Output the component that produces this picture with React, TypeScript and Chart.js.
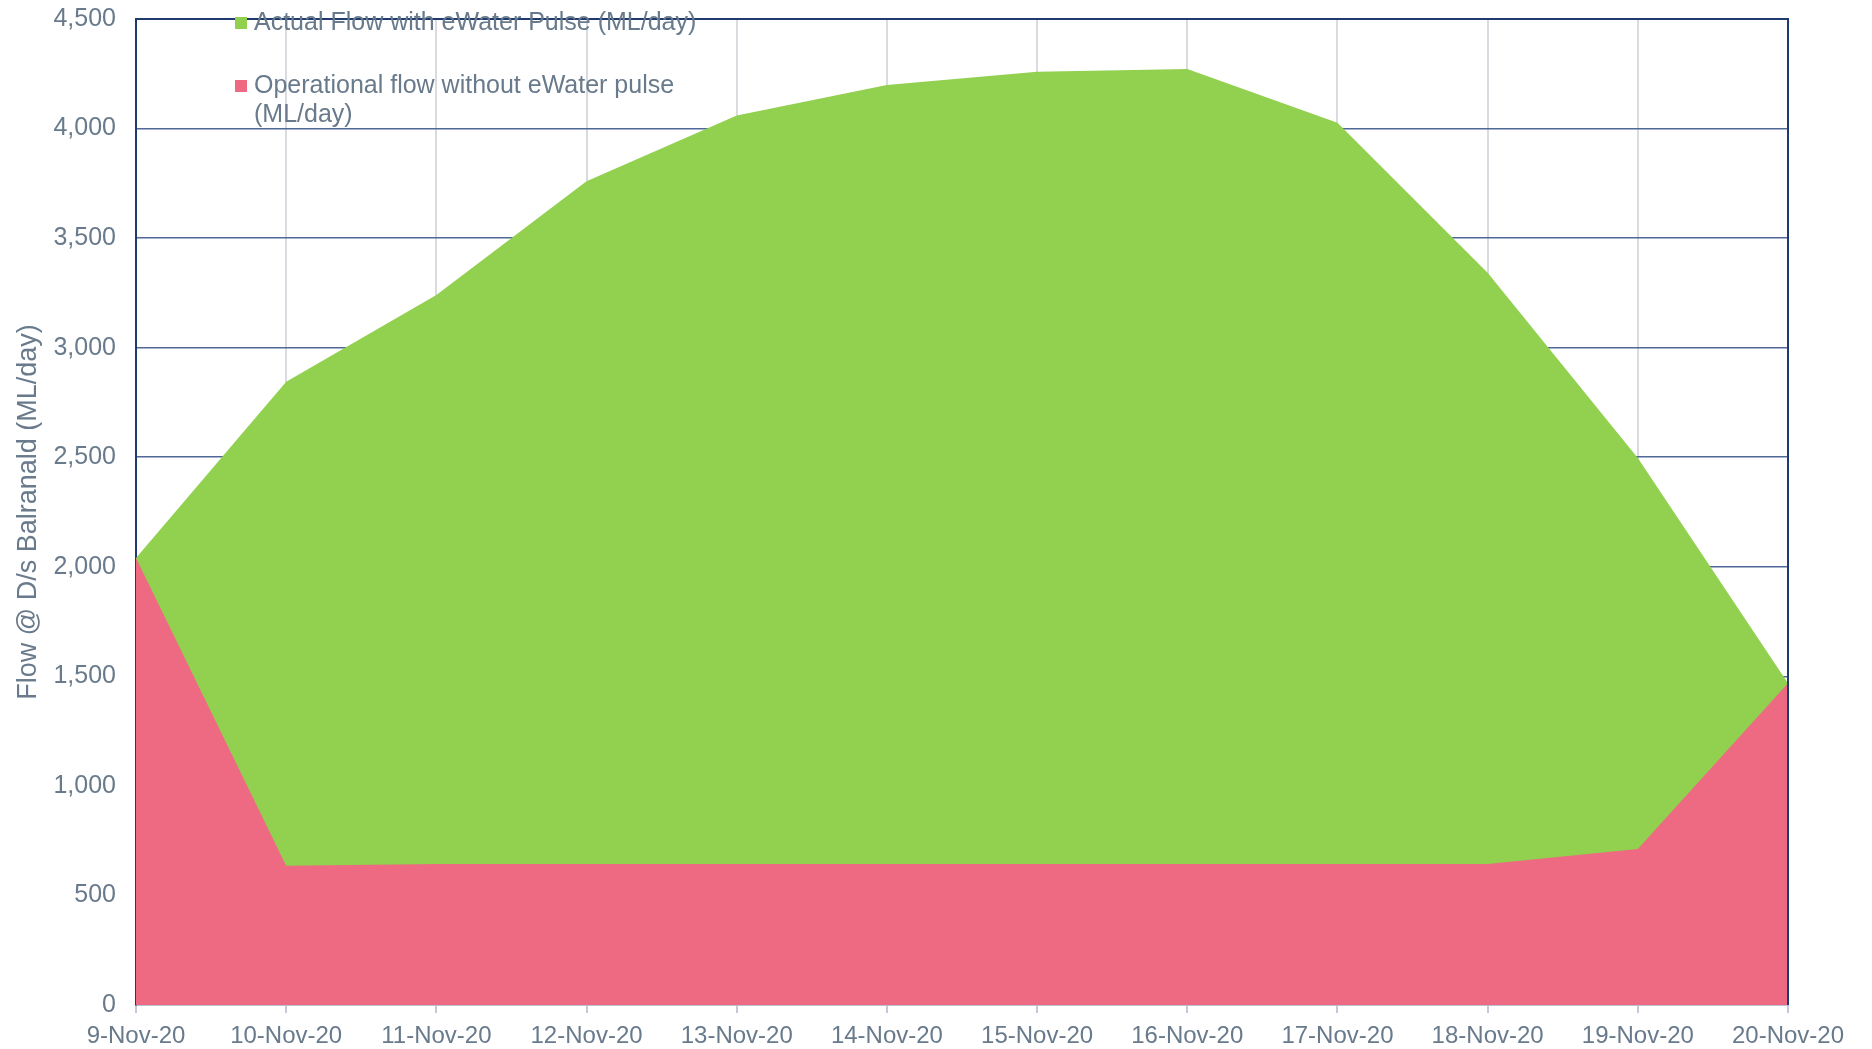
import React, { useEffect, useRef } from "react";
import { Chart, registerables } from "chart.js";

Chart.register(...registerables);

const dates = [
  "9-Nov-20", "10-Nov-20", "11-Nov-20", "12-Nov-20", "13-Nov-20", "14-Nov-20",
  "15-Nov-20", "16-Nov-20", "17-Nov-20", "18-Nov-20", "19-Nov-20", "20-Nov-20",
];

// Flow downstream of Balranald, ML/day
const actualFlow = [2040, 2845, 3240, 3759, 4060, 4199, 4259, 4272, 4027, 3342, 2496, 1469];
const operationalFlow = [2040, 636, 643, 643, 643, 643, 643, 643, 643, 643, 712, 1469];

const yTicks = [0, 500, 1000, 1500, 2000, 2500, 3000, 3500, 4000, 4500];

const actualLabel = "Actual Flow with eWater Pulse (ML/day)";
const operationalLabel = ["Operational flow without eWater pulse", "(ML/day)"];
const yTitle = "Flow @ D/s Balranald (ML/day)";

const GREEN = "#92D050";
const RED = "#EE6A82";
const TEXT = "#687a8b";
const NAVY = "#1F3A6E";
const FONT = "'Liberation Sans', Arial, sans-serif";

const frameAndLegend = {
  id: "frameAndLegend",
  afterDraw(chart: any) {
    const { ctx, chartArea } = chart;
    const { left, right, top, bottom } = chartArea;
    ctx.save();
    // top and right frame lines
    ctx.strokeStyle = NAVY;
    ctx.lineWidth = 2;
    ctx.beginPath();
    ctx.moveTo(left, top);
    ctx.lineTo(right, top);
    ctx.lineTo(right, bottom);
    ctx.stroke();

    // legend inside the plot area
    ctx.font = `25px ${FONT}`;
    ctx.textBaseline = "middle";
    ctx.textAlign = "left";
    const mx = left + 99;
    const tx = left + 118;
    ctx.fillStyle = GREEN;
    ctx.fillRect(mx, top - 2, 12, 12);
    ctx.fillStyle = TEXT;
    ctx.fillText(actualLabel, tx, top + 4);

    ctx.fillStyle = RED;
    ctx.fillRect(mx, top + 61, 12, 12);
    ctx.fillStyle = TEXT;
    operationalLabel.forEach((line, i) => {
      ctx.fillText(line, tx, top + 67 + i * 29);
    });
    ctx.restore();
  },
};

export default function App() {
  const canvasRef = useRef<HTMLCanvasElement | null>(null);

  useEffect(() => {
    document.body.style.margin = "0";
    const canvas = canvasRef.current;
    if (!canvas) return;
    const chart = new Chart(canvas, {
      type: "line",
      data: {
        labels: dates,
        datasets: [
          {
            label: operationalLabel.join(" "),
            data: operationalFlow,
            backgroundColor: RED,
            borderWidth: 0,
            pointRadius: 0,
            fill: "origin",
            tension: 0,
          },
          {
            label: actualLabel,
            data: actualFlow,
            backgroundColor: GREEN,
            borderWidth: 0,
            pointRadius: 0,
            fill: "origin",
            tension: 0,
          },
        ],
      },
      options: {
        responsive: false,
        animation: false,
        layout: { padding: { top: 19, right: 84, left: 0, bottom: 0 } },
        plugins: {
          legend: { display: false },
          tooltip: { enabled: false },
        },
        scales: {
          x: {
            type: "category",
            offset: false,
            grid: {
              color: "#D9DBE0",
              lineWidth: 2,
              drawTicks: true,
              tickLength: 8,
              tickColor: "#C3C9D6",
            },
            border: { color: "#B9C1D3", width: 2 },
            ticks: {
              color: TEXT,
              font: { family: FONT, size: 24 },
              padding: 9,
              maxRotation: 0,
              autoSkip: false,
            },
            afterFit: (scale: any) => {
              scale.height = 44;
              scale.paddingLeft = 0;
              scale.paddingRight = 0;
            },
          },
          y: {
            min: 0,
            max: 4500,
            afterBuildTicks: (scale: any) => {
              scale.ticks = yTicks.map((v) => ({ value: v }));
            },
            grid: {
              color: (c: any) => (c.tick && c.tick.value === 0 ? "rgba(0,0,0,0)" : "#4F6898"),
              lineWidth: 1.5,
              drawTicks: false,
            },
            border: { color: NAVY, width: 2 },
            ticks: {
              color: TEXT,
              font: { family: FONT, size: 25 },
              padding: 20,
              callback: (v: any) => Number(v).toLocaleString("en-US"),
            },
            title: {
              display: true,
              text: yTitle,
              color: TEXT,
              font: { family: FONT, size: 27 },
              padding: { top: 12, bottom: 0 },
            },
            afterFit: (scale: any) => {
              scale.width = 136;
              scale.paddingTop = 0;
              scale.paddingBottom = 0;
            },
          },
        },
      },
      plugins: [frameAndLegend],
    });
    return () => chart.destroy();
  }, []);

  return (
    <div style={{ position: "absolute", left: 0, top: 0, width: 1872, height: 1049, background: "#fff" }}>
      <canvas ref={canvasRef} width={1872} height={1049} style={{ display: "block" }} />
    </div>
  );
}
